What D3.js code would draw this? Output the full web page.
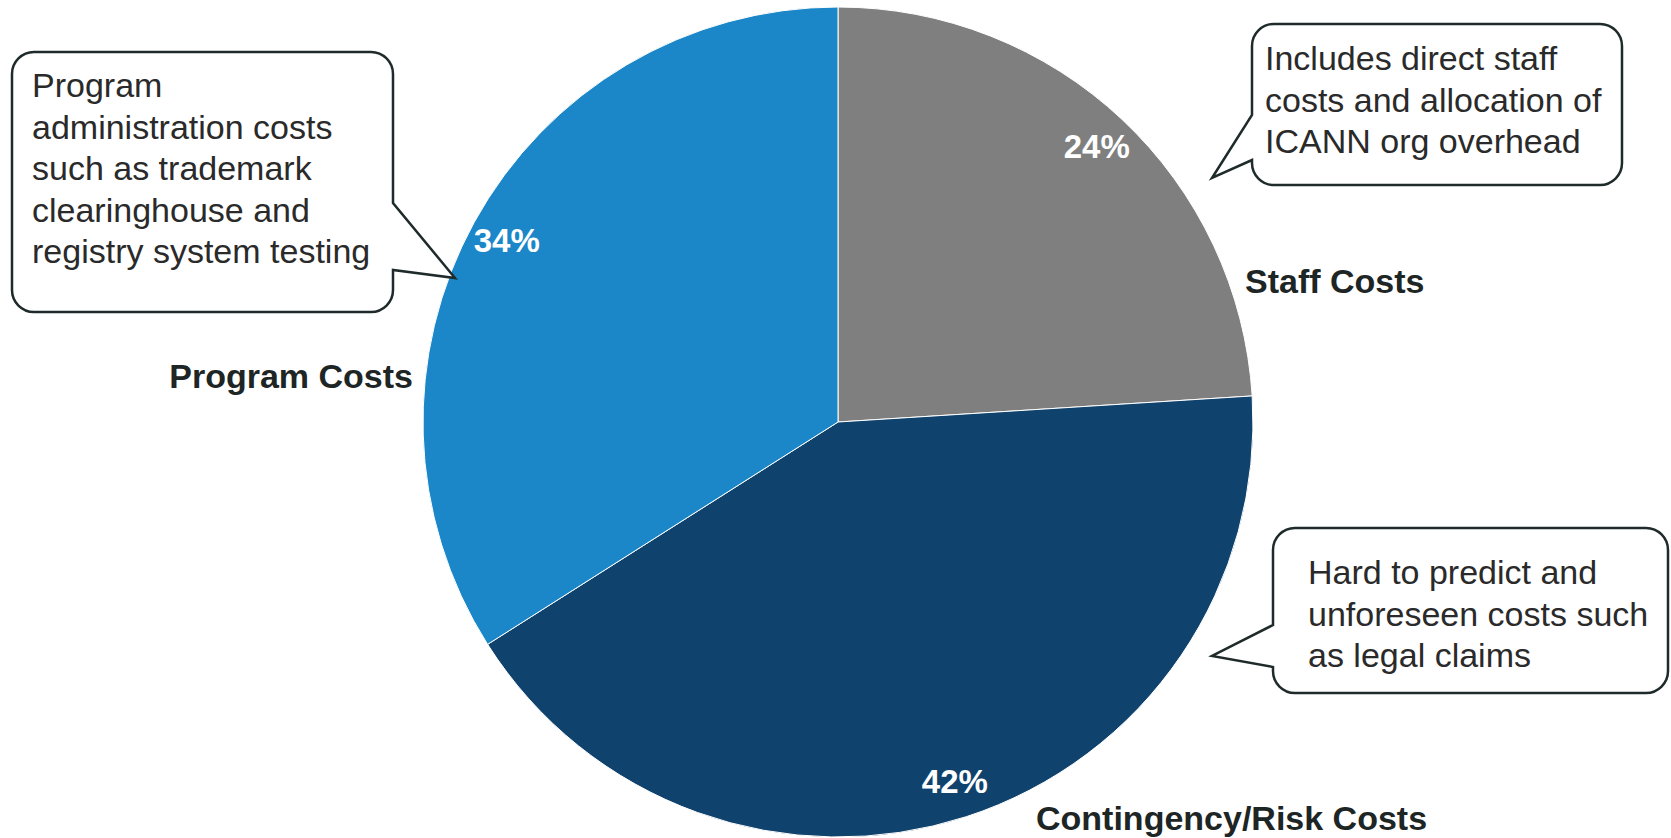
<!DOCTYPE html>
<html>
<head>
<meta charset="utf-8">
<script src="https://cdn.jsdelivr.net/npm/d3@7/dist/d3.min.js"></script>
<style>
  html, body { margin: 0; padding: 0; background: #ffffff; }
  svg { display: block; }
</style>
</head>
<body>
<svg id="chart" width="1671" height="838"></svg>
<script>
// ---- data ----
const categories = ["Staff Costs", "Contingency/Risk Costs", "Program Costs"];
const shares = [24, 42, 34];
const percentLabels = ["24%", "42%", "34%"];
const colors = ["#7f7f7f", "#0f426c", "#1b87c9"];
const calloutTexts = [
  ["Includes direct staff", "costs and allocation of", "ICANN org overhead"],
  ["Hard to predict and", "unforeseen costs such", "as legal claims"],
  ["Program", "administration costs", "such as trademark", "clearinghouse and", "registry system testing"]
];

// ---- layout ----
const W = 1671, H = 838;
const cx = 838, cy = 422, R = 415;
const font = "'Liberation Sans', Arial, Helvetica, sans-serif";
const labelLayout = [
  { x: 1245, y: 293, anchor: "start" },
  { x: 1036, y: 830, anchor: "start" },
  { x: 413, y: 388, anchor: "end" }
];
const calloutLayout = [
  { x0: 1252, y0: 24, x1: 1622, y1: 185, side: "left", ta: 115, tb: 160, tip: [1212, 178], tx: 1265, ty: 70 },
  { x0: 1273, y0: 528, x1: 1668, y1: 693, side: "left", ta: 625, tb: 667, tip: [1212, 656], tx: 1308, ty: 584 },
  { x0: 12, y0: 52, x1: 393, y1: 312, side: "right", ta: 203, tb: 270, tip: [455, 278], tx: 32, ty: 97 }
];

const svg = d3.select("#chart");

const data = categories.map((c, i) => ({ name: c, value: shares[i], pct: percentLabels[i], color: colors[i] }));
const pie = d3.pie().value(d => d.value).sort(null).startAngle(0).endAngle(2 * Math.PI);
const arcs = pie(data);
const arc = d3.arc().innerRadius(0).outerRadius(R);
const labelArc = d3.arc().innerRadius(378).outerRadius(378);

const g = svg.append("g").attr("transform", `translate(${cx},${cy})`);
g.selectAll("path.slice")
  .data(arcs)
  .join("path")
  .attr("class", "slice")
  .attr("d", arc)
  .attr("fill", d => d.data.color)
  .attr("stroke", "#ffffff")
  .attr("stroke-width", 1);

g.selectAll("text.pct")
  .data(arcs)
  .join("text")
  .attr("class", "pct")
  .attr("transform", d => `translate(${labelArc.centroid(d)})`)
  .attr("text-anchor", "middle")
  .attr("dy", "0.36em")
  .attr("fill", "#ffffff")
  .attr("font-family", font)
  .attr("font-weight", "bold")
  .attr("font-size", 33)
  .text(d => d.data.pct);

// category labels
svg.selectAll("text.cat")
  .data(data)
  .join("text")
  .attr("class", "cat")
  .attr("x", (d, i) => labelLayout[i].x)
  .attr("y", (d, i) => labelLayout[i].y)
  .attr("text-anchor", (d, i) => labelLayout[i].anchor)
  .attr("fill", "#1d2525")
  .attr("font-family", font)
  .attr("font-weight", "bold")
  .attr("font-size", 34)
  .text(d => d.name);

// callouts
function calloutPath(c) {
  const r = 22;
  const p = d3.path();
  const { x0, y0, x1, y1 } = c;
  p.moveTo(x0 + r, y0);
  p.lineTo(x1 - r, y0);
  p.arcTo(x1, y0, x1, y0 + r, r);
  if (c.side === "right") {
    p.lineTo(x1, c.ta);
    p.lineTo(c.tip[0], c.tip[1]);
    p.lineTo(x1, c.tb);
  }
  p.lineTo(x1, y1 - r);
  p.arcTo(x1, y1, x1 - r, y1, r);
  p.lineTo(x0 + r, y1);
  p.arcTo(x0, y1, x0, y1 - r, r);
  if (c.side === "left") {
    p.lineTo(x0, c.tb);
    p.lineTo(c.tip[0], c.tip[1]);
    p.lineTo(x0, c.ta);
  }
  p.lineTo(x0, y0 + r);
  p.arcTo(x0, y0, x0 + r, y0, r);
  p.closePath();
  return p.toString();
}

const cg = svg.selectAll("g.callout")
  .data(calloutLayout)
  .join("g")
  .attr("class", "callout");

cg.append("path")
  .attr("d", d => calloutPath(d))
  .attr("fill", "#ffffff")
  .attr("stroke", "#1f2a2a")
  .attr("stroke-width", 2.5)
  .attr("stroke-linejoin", "miter");

cg.each(function(d, i) {
  const t = d3.select(this).append("text")
    .attr("font-family", font)
    .attr("font-size", 34)
    .attr("fill", "#2a2a2a");
  t.selectAll("tspan")
    .data(calloutTexts[i])
    .join("tspan")
    .attr("x", d.tx)
    .attr("y", (s, j) => d.ty + j * 41.5)
    .text(s => s);
});
</script>
</body>
</html>
